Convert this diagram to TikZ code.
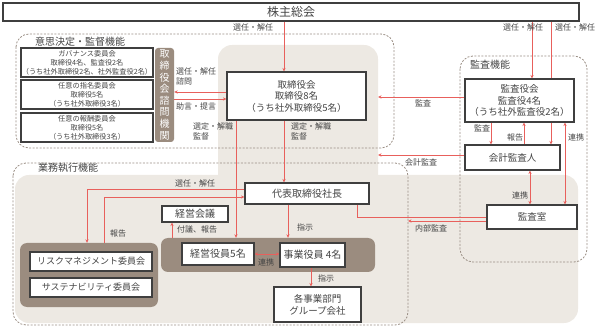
\documentclass[tikz,border=0pt]{standalone}
\usepackage{fontspec}
\setmainfont{Noto Sans CJK JP}
\usetikzlibrary{arrows.meta,positioning,backgrounds,calc}
\definecolor{ctxt}{HTML}{454545}
\definecolor{cframe}{HTML}{3F3F3F}
\definecolor{cred}{HTML}{E8605C}
\definecolor{cbeige}{HTML}{EDE9E3}
\definecolor{cbrown}{HTML}{9B8C7F}
\definecolor{cdash}{HTML}{9A8E84}

\begin{document}
\begin{tikzpicture}[x=1pt,y=-1pt,
    box/.style={draw=cframe,line width=1.1pt,fill=white,text=ctxt,align=center,inner sep=0pt},
    grp/.style={fill=cbrown,rounded corners=7pt,inner sep=0pt},
    area/.style={draw=cdash,line width=0.8pt,dash pattern=on 2pt off 1.5pt,rounded corners=13pt},
    arr/.style={draw=cred,line width=0.8pt,-{Stealth[length=3.5pt,width=3.2pt]}},
    darr/.style={draw=cred,line width=0.8pt,{Stealth[length=3.5pt,width=3.2pt]}-{Stealth[length=3.5pt,width=3.2pt]}},
    lnk/.style={draw=cred,line width=0.8pt},
    lbl/.style={text=ctxt,inner sep=0pt,font=\fontsize{8}{10}\selectfont,align=left},
    ttl/.style={text=ctxt,inner sep=0pt,font=\fontsize{10}{12}\selectfont}]
  \useasboundingbox (0,0) rectangle (599,328);

  % Shareholders
  \node[box,minimum width=576pt,minimum height=18pt,font=\fontsize{12}{14}\selectfont] (gms) at (291,12) {株主総会};

  % Advisory committees
  \node[box,minimum width=132pt,minimum height=29pt,font=\fontsize{7.2}{9}\selectfont] (gov) at (87,62.5)
    {ガバナンス委員会\\取締役4名、監査役2名\\（うち社外取締役2名、社外監査役2名）};
  \node[box,minimum width=132pt,minimum height=29pt,font=\fontsize{7.2}{9}\selectfont] (nom) at (87,94.5)
    {任意の指名委員会\\取締役5名\\（うち社外取締役3名）};
  \node[box,minimum width=132pt,minimum height=29pt,font=\fontsize{7.2}{9}\selectfont] (rem) at (87,127.5)
    {任意の報酬委員会\\取締役5名\\（うち社外取締役3名）};
  \node[fill=cbrown,rounded corners=3pt,minimum width=19pt,minimum height=94pt,inner sep=0pt,
        text=white,align=center,font=\fontsize{10}{11.6}\selectfont] (adv) at (164.5,95)
    {取\\締\\役\\会\\諮\\問\\機\\関};

  % Board and audit
  \node[box,minimum width=139pt,minimum height=48pt,font=\fontsize{9.5}{11.5}\selectfont] (bod) at (296.5,96)
    {取締役会\\取締役8名\\（うち社外取締役5名）};
  \node[box,minimum width=109pt,minimum height=43pt,font=\fontsize{9.5}{11.5}\selectfont] (kan) at (519.5,100.5)
    {監査役会\\監査役4名\\（うち社外監査役2名）};
  \node[box,minimum width=95pt,minimum height=25pt,font=\fontsize{9.5}{11}\selectfont] (kai) at (512.5,157.5) {会計監査人};
  \node[box,minimum width=90pt,minimum height=24pt,font=\fontsize{9.5}{11}\selectfont] (kns) at (532,217) {監査室};

  % Execution
  \node[box,minimum width=124pt,minimum height=21pt,font=\fontsize{10}{12}\selectfont] (sha) at (307,193.5) {代表取締役社長};
  \node[box,minimum width=66pt,minimum height=16pt,font=\fontsize{10}{12}\selectfont] (kmt) at (195,214) {経営会議};
  \node[box,minimum width=122pt,minimum height=19pt,font=\fontsize{9}{11}\selectfont] (rsk) at (91,261.5) {リスクマネジメント委員会};
  \node[box,minimum width=122pt,minimum height=19pt,font=\fontsize{9}{11}\selectfont] (sus) at (91,287.5) {サステナビリティ委員会};
  \node[box,minimum width=72pt,minimum height=22pt,font=\fontsize{10}{12}\selectfont] (kei) at (218,254) {経営役員5名};
  \node[box,minimum width=65pt,minimum height=24pt,font=\fontsize{10}{12}\selectfont] (jig) at (312.5,255) {事業役員 4名};
  \node[box,minimum width=87pt,minimum height=35pt,font=\fontsize{9.5}{12}\selectfont] (bum) at (317.5,304.5)
    {各事業部門\\グループ会社};

  % Area titles
  \node[ttl,anchor=west] (tdec) at (35,42) {意思決定・監督機能};
  \node[ttl,anchor=west] (taud) at (470,65) {監査機能};
  \node[ttl,anchor=west] (texe) at (38,168) {業務執行機能};

  % Labels
  \node[lbl,anchor=west] (l1) at (233,27) {選任・解任};
  \node[lbl,anchor=west] (l2) at (176,76) {選任・解任\\諮問};
  \node[lbl,anchor=west] (l3) at (176,106) {助言・提言};
  \node[lbl,anchor=west] (l4) at (193,131.5) {選定・解職\\監督};
  \node[lbl,anchor=west] (l5) at (291,131.5) {選定・解職\\監督};
  \node[lbl,anchor=west] (l6) at (503,27) {選任・解任};
  \node[lbl,anchor=west] (l7) at (555,27) {選任・解任};
  \node[lbl,anchor=west] (l8) at (415,103) {監査};
  \node[lbl,anchor=west] (l9) at (405,162) {会計監査};
  \node[lbl,anchor=west] (l10) at (474,128) {監査};
  \node[lbl,anchor=west] (l11) at (507,137) {報告};
  \node[lbl,anchor=west] (l12) at (568,137) {連携};
  \node[lbl,anchor=west] (l13) at (512,195) {連携};
  \node[lbl,anchor=west] (l14) at (415,228) {内部監査};
  \node[lbl,anchor=west] (l15) at (175,183) {選任・解任};
  \node[lbl,anchor=west] (l16) at (110,233) {報告};
  \node[lbl,anchor=west] (l17) at (177,229) {付議、報告};
  \node[lbl,anchor=west] (l18) at (297,227) {指示};
  \node[lbl,anchor=west] (l19) at (258,262) {連携};
  \node[lbl,anchor=west] (l20) at (318,278) {指示};

  % Line positions
  \coordinate (xa) at (284,0);
  \coordinate (xb) at (236,0);
  \coordinate (xc) at (288,0);
  \coordinate (xd) at (532,0);
  \coordinate (xe) at (551,0);
  \coordinate (xf) at (491,0);
  \coordinate (xg) at (524,0);
  \coordinate (xh) at (565,0);
  \coordinate (xi) at (530,0);
  \coordinate (xj) at (357,0);
  \coordinate (xk) at (87,0);
  \coordinate (xl) at (104,0);
  \coordinate (xm) at (172,0);
  \coordinate (xn) at (311,0);
  \coordinate (ya) at (0,92);
  \coordinate (yb) at (0,99);
  \coordinate (yc) at (0,189);
  \coordinate (yd) at (0,197);
  \coordinate (aud) at (378,97);
  \coordinate (acc) at (378,155);
  \coordinate (int) at (408,221);

  \begin{scope}[on background layer]
    % Background areas
    \fill[cbeige,rounded corners=14pt] (218,45) rectangle (378,200);
    \fill[cbeige,rounded corners=14pt] (15,175) rectangle (578,323);
    \draw[area] (16,34) rectangle (394,148);
    \draw[area] (13,163) rectangle (408,325);
    \draw[area] (460,56) rectangle (587,262);
    \node[grp,minimum width=138pt,minimum height=64pt] (rgrp) at (89,275) {};
    \node[grp,minimum width=214pt,minimum height=34pt] (egrp) at (268,255) {};

    % Connectors
    \draw[arr] (gms.south -| xa) -- (bod.north -| xa);
    \draw[arr] (bod.west |- ya) -- (adv.east |- ya);
    \draw[arr] (adv.east |- yb) -- (bod.west |- yb);
    \draw[arr] (bod.south -| xb) -- (egrp.north -| xb);
    \draw[arr] (bod.south -| xa) -- (sha.north -| xa);
    \draw[arr] (gms.south -| xd) -- (kan.north -| xd);
    \draw[arr] (gms.south -| xe) -- (kai.north -| xe);
    \draw[arr] (kan.west |- aud) -- (aud);
    \draw[arr] (kai.west |- acc) -- (acc);
    \draw[arr] (kan.south -| xf) -- (kai.north -| xf);
    \draw[arr] (kai.north -| xg) -- (kan.south -| xg);
    \draw[darr] (kan.south -| xh) -- (kns.north -| xh);
    \draw[darr] (kai.south -| xi) -- (kns.north -| xi);
    \draw[lnk] (sha.south -| xj) |- (kns.west);
    \draw[arr] (kns.west |- int) -- (int);
    \draw[arr] (sha.west |- yc) -| (rgrp.north -| xk);
    \draw[arr] (rgrp.north -| xl) |- (sha.west |- yd);
    \draw[arr] (egrp.north -| xm) -- (kmt.south -| xm);
    \draw[darr] (kei.east) -- (kei.east -| jig.west);
    \draw[arr] (sha.south -| xc) -- (egrp.north -| xc);
    \draw[arr] (jig.south -| xn) -- (bum.north -| xn);
  \end{scope}
\end{tikzpicture}
\end{document}
